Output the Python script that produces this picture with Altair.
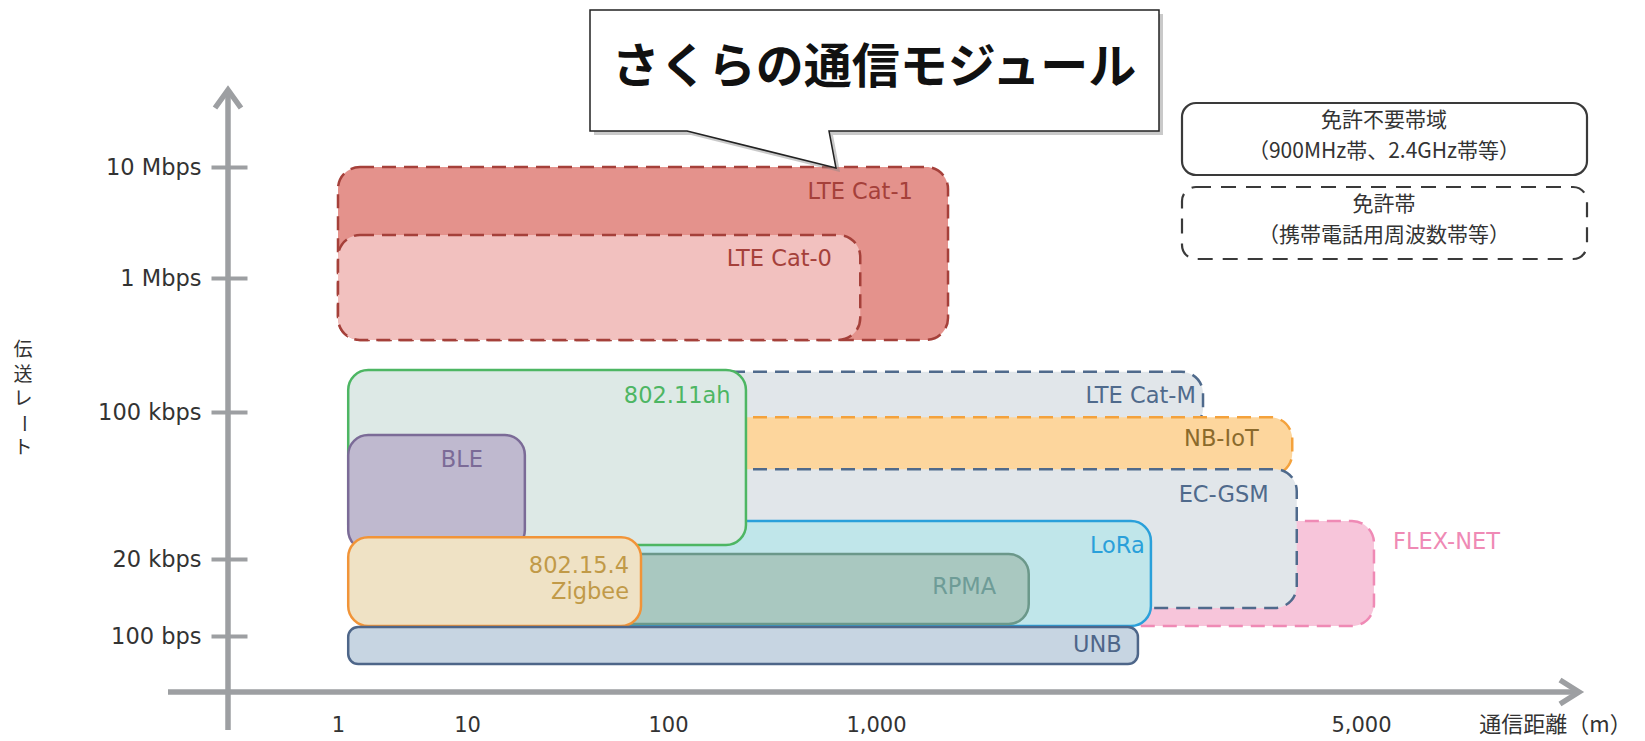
import altair as alt
import pandas as pd

# ---------------- data ----------------
names = ["LTE Cat-1", "LTE Cat-0", "LTE Cat-M", "NB-IoT", "FLEX-NET", "EC-GSM",
         "LoRa", "RPMA", "802.11ah", "BLE", "802.15.4", "UNB"]
band = ["licensed", "licensed", "licensed", "licensed", "licensed", "licensed",
        "unlicensed", "unlicensed", "unlicensed", "unlicensed", "unlicensed", "unlicensed"]
# communication distance (m)
dist_min = [1.0, 1.0, 10, 10, 2000, 10, 10, 10, 1.2, 1.2, 1.2, 1.2]
dist_max = [1270, 840, 2960, 3980, 5220, 4040, 2490, 1660, 237, 19.4, 73.4, 2385]
# transmission rate (bps)
rate_min = [345000, 345000, 82000, 50000, 200, 690, 200, 229, 23300, 22000, 200, 14.6]
rate_max = [10000000, 2440000, 200000, 94500, 30300, 53500, 30300, 21100, 206000, 77700, 25400, 187]
# label text and anchor (right end of the first text line) in data units
label_text = ["LTE Cat-1", "LTE Cat-0", "LTE Cat-M", "NB-IoT", "FLEX-NET", "EC-GSM",
              "LoRa", "RPMA", "802.11ah", "BLE", "802.15.4\nZigbee", "UNB"]
label_x = [1130, 614, 2890, 3560, 7930, 3680, 2440, 1490, 200, 12.0, 64, 2260]
label_y = [5950000, 1480000, 132000, 74800, 24000, 40300, 23100, 2840, 132000, 59000, 12000, 54]

dist_ticks = [1, 10, 100, 1000, 5000]
dist_tick_labels = ["1", "10", "100", "1,000", "5,000"]
rate_ticks = [100, 20000, 100000, 1000000, 10000000]
rate_tick_labels = ["100 bps", "20 kbps", "100 kbps", "1 Mbps", "10 Mbps"]

legend_titles = ["免許不要帯域", "免許帯"]
legend_notes = ["（900MHz帯、2.4GHz帯等）", "（携帯電話用周波数帯等）"]
callout_text = "さくらの通信モジュール"
x_title = "通信距離（m）"
y_title = "伝送レート"

# ---------------- styles ----------------
fill_colors = ["#e4928c", "#f2c1bf", "#e1e6ea", "#fdd69d", "#f7c5da", "#e1e6ea",
               "#c0e6ea", "#a9c8c0", "#dde9e6", "#bfb9cf", "#efe2c5", "#c7d5e2"]
stroke_colors = ["#a5403a", "#a5403a", "#4f6a8c", "#f4a23c", "#ef8ab5", "#4f6a8c",
                 "#2aa0da", "#6b988a", "#4db663", "#7b6b97", "#f19438", "#4e6689"]
label_colors = ["#a5403a", "#a5403a", "#4f6a8c", "#8b6a2c", "#ef8ab5", "#4f6a8c",
                "#2aa0da", "#6e9c97", "#4db663", "#7b6b97", "#c19a48", "#4e6689"]

LATIN = "DejaVu Sans"
CJK = "Noto Sans CJK JP"
AXIS_GRAY = "#9d9fa2"
TEXT = "#333333"

W, H = 1351, 600

boxes = pd.DataFrame(dict(name=names, band=band, d0=dist_min, d1=dist_max,
                          r0=rate_min, r1=rate_max, label=label_text,
                          lx=label_x, ly=label_y))


def label_expr(vals, labels):
    parts = [f"datum.value == {v} ? '{l}'" for v, l in zip(vals, labels)]
    return " : ".join(parts) + " : ''"


# piecewise (schematic) logarithmic scales
xscale = alt.Scale(type="log", domain=dist_ticks, range=[110, 239, 440, 648, 1133], nice=False)
yscale = alt.Scale(type="log", domain=rate_ticks, range=[544, 467, 320, 186, 75], nice=False)

x_axis = alt.Axis(values=dist_ticks, labelExpr=label_expr(dist_ticks, dist_tick_labels),
                  domain=False, ticks=False, grid=False, labelPadding=39,
                  labelBaseline="alphabetic", labelFont=LATIN, labelFontSize=21,
                  labelColor=TEXT, labelFlush=False, labelOverlap=False,
                  title=x_title, titleX=1327, titleY=32, titleAlign="center",
                  titleBaseline="middle", titleFont=CJK, titleFontSize=22,
                  titleFontWeight="normal", titleColor=TEXT)
y_axis = alt.Axis(values=rate_ticks, labelExpr=label_expr(rate_ticks, rate_tick_labels),
                  domain=False, grid=False, ticks=True, tickSize=36, tickWidth=4,
                  tickColor=AXIS_GRAY, offset=-19, labelPadding=10, labelFont=LATIN,
                  labelFontSize=22.5, labelColor=TEXT, labelOverlap=False, title=None)

fill_scale = alt.Scale(domain=names, range=fill_colors)
stroke_scale = alt.Scale(domain=names, range=stroke_colors)
label_scale = alt.Scale(domain=names, range=label_colors)

base = alt.Chart(boxes)
enc = dict(
    x=alt.X("d0:Q", scale=xscale, axis=x_axis),
    x2="d1:Q",
    y=alt.Y("r0:Q", scale=yscale, axis=y_axis),
    y2="r1:Q",
    fill=alt.Fill("name:N", scale=fill_scale, legend=None),
    stroke=alt.Stroke("name:N", scale=stroke_scale, legend=None),
)

dashed = base.transform_filter(alt.datum.band == "licensed").mark_rect(
    cornerRadius=22, strokeWidth=2.5, strokeDash=[14, 8]).encode(**enc)
solid = base.transform_filter(
    (alt.datum.band == "unlicensed") & (alt.datum.name != "UNB")).mark_rect(
    cornerRadius=20, strokeWidth=2.5).encode(**enc)
thin = base.transform_filter(alt.datum.name == "UNB").mark_rect(
    cornerRadius=10, strokeWidth=2.5).encode(**enc)

labels = base.mark_text(align="right", baseline="middle", font=LATIN, fontSize=22.5,
                        lineBreak="\n", lineHeight=26).encode(
    x=alt.X("lx:Q", scale=xscale, axis=x_axis),
    y=alt.Y("ly:Q", scale=yscale, axis=y_axis),
    text="label:N",
    color=alt.Color("name:N", scale=label_scale, legend=None),
)

one = alt.Data(values=[{"k": 0}])

# axes lines with arrow heads
y_line = alt.Chart(one).mark_rule(color=AXIS_GRAY, strokeWidth=5.5).encode(
    x=alt.value(0), y=alt.value(-2), y2=alt.value(638))
x_line = alt.Chart(one).mark_rule(color=AXIS_GRAY, strokeWidth=5.5).encode(
    x=alt.value(-60), x2=alt.value(W), y=alt.value(H))
y_head = alt.Chart(one).mark_point(shape="M -13 18 L 0 0 L 13 18", size=4, filled=False,
                                   stroke=AXIS_GRAY, strokeWidth=5.5, opacity=1).encode(
    x=alt.value(0), y=alt.value(-2))
x_head = alt.Chart(one).mark_point(shape="M -19 -12 L 0 0 L -19 12", size=4, filled=False,
                                   stroke=AXIS_GRAY, strokeWidth=5.5, opacity=1).encode(
    x=alt.value(W), y=alt.value(H))

# y-axis title written vertically, one character per line (ー turned upright)
title_layers = []
for i, ch in enumerate(y_title):
    title_layers.append(
        alt.Chart(pd.DataFrame({"t": [ch]})).mark_text(
            font=CJK, fontSize=19, color=TEXT, align="center", baseline="middle",
            angle=90 if ch == "ー" else 0).encode(
            x=alt.value(-205), y=alt.value(258 + 24.5 * i), text="t:N"))

# legend boxes (band types)
leg1_box = alt.Chart(one).mark_rect(cornerRadius=14, fill="white", stroke="#3a3a3a",
                                    strokeWidth=2.2).encode(
    x=alt.value(954), x2=alt.value(1359), y=alt.value(11), y2=alt.value(83))
leg2_box = alt.Chart(one).mark_rect(cornerRadius=14, fill="white", stroke="#3a3a3a",
                                    strokeWidth=2.2, strokeDash=[15, 10]).encode(
    x=alt.value(954), x2=alt.value(1359), y=alt.value(95), y2=alt.value(167))


def legend_line(txt, ypix):
    return alt.Chart(pd.DataFrame({"t": [txt]})).mark_text(
        font=CJK, fontSize=21, color=TEXT, align="center", baseline="middle").encode(
        x=alt.value(1156), y=alt.value(ypix), text="t:N")


leg_texts = [legend_line(legend_titles[0], 29), legend_line(legend_notes[0], 60),
             legend_line(legend_titles[1], 113), legend_line(legend_notes[1], 144)]

# speech-bubble callout
bubble = "M -284 -59 L 285 -59 L 285 62 L -45 62 L -38 99 L -187 62 L -284 62 Z"
shadow = alt.Chart(one).mark_point(shape=bubble, size=4, filled=True, fill="#888888",
                                   opacity=0.45, strokeWidth=0).encode(
    x=alt.value(650), y=alt.value(-19))
callout = alt.Chart(one).mark_point(shape=bubble, size=4, filled=True, fill="white",
                                    stroke="#222222", strokeWidth=1.5, opacity=1).encode(
    x=alt.value(646), y=alt.value(-23))
callout_txt = alt.Chart(pd.DataFrame({"t": [callout_text]})).mark_text(
    font=CJK, fontSize=48, fontWeight="bold", color="#111111",
    align="center", baseline="middle").encode(
    x=alt.value(646), y=alt.value(-23), text="t:N")

chart = alt.layer(
    dashed, solid, thin, labels,
    y_line, x_line, y_head, x_head,
    *title_layers,
    leg1_box, leg2_box, *leg_texts,
    shadow, callout, callout_txt,
).resolve_scale(fill="shared", stroke="shared", color="independent").properties(
    width=W, height=H,
    autosize=alt.AutoSizeParams(type="none"),
    padding={"left": 220, "top": 84, "right": 58, "bottom": 46},
    background="white",
).configure_view(strokeWidth=0)

chart.save("out.html", embed_options={"renderer": "svg", "actions": False})
